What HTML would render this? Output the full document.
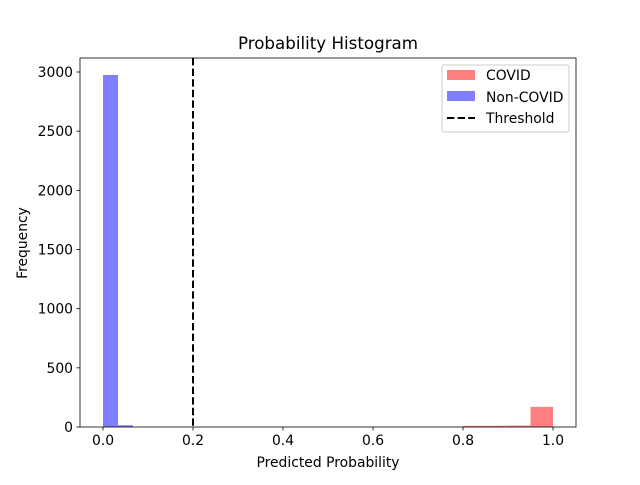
<!DOCTYPE html>
<html><head><meta charset="utf-8"><style>body{margin:0;background:#fff}text{font-family:"DejaVu Sans","Liberation Sans",sans-serif}</style></head>
<body>
<svg id="c" width="640" height="480" xmlns="http://www.w3.org/2000/svg"></svg>
<script>
const covidBinStarts=[0.8,0.85,0.9,0.95];
const covidCounts=[10,10,12,170];
const covidBinWidth=0.05;
const nonBinStarts=[0,0.0333];
const nonCounts=[2975,15];
const nonBinWidth=0.0333;
const threshold=0.2;
const xTicks=[0,0.2,0.4,0.6,0.8,1.0];
const xTickLabels=["0.0","0.2","0.4","0.6","0.8","1.0"];
const yTicks=[0,500,1000,1500,2000,2500,3000];
const L=80,R=576,T=58,B=427;
const X=v=>103+v*450, Y=v=>B-v*(355/3000);
const s=document.getElementById('c');const NS='http://www.w3.org/2000/svg';
function el(t,a,txt){const e=document.createElementNS(NS,t);for(const k in a)e.setAttribute(k,a[k]);if(txt!==undefined)e.textContent=txt;s.appendChild(e);return e;}
covidBinStarts.forEach((b,i)=>{const e=el('rect',{x:X(b),y:Y(covidCounts[i]),width:X(b+covidBinWidth)-X(b),height:B-Y(covidCounts[i]),fill:'#ff0000','fill-opacity':0.5});

});
nonBinStarts.forEach((b,i)=>{const e=el('rect',{x:X(b),y:Y(nonCounts[i]),width:X(b+nonBinWidth)-X(b),height:B-Y(nonCounts[i]),fill:'#0000ff','fill-opacity':0.5});

});
let th=el('line',{x1:X(threshold),x2:X(threshold),y1:T,y2:B,stroke:'#000','stroke-width':2,'stroke-dasharray':'7.4,3.2'});


let ax=el('rect',{x:L,y:T,width:R-L,height:B-T,fill:'none',stroke:'#000','stroke-width':0.8});


xTicks.forEach((v,i)=>{el('line',{x1:X(v),x2:X(v),y1:B,y2:B+3.5,stroke:'#000','stroke-width':0.8});
const t=el('text',{x:X(v),y:B+18,'font-size':13.9,'text-anchor':'middle'},xTickLabels[i]);

});
yTicks.forEach(v=>{el('line',{x1:L-3.5,x2:L,y1:Y(v),y2:Y(v),stroke:'#000','stroke-width':0.8});
const t=el('text',{x:L-7,y:Y(v)+5,'font-size':13.9,'text-anchor':'end'},String(v));

});
let t1=el('text',{x:328,y:49,'font-size':16.7,'text-anchor':'middle'},'Probability Histogram');

let t2=el('text',{x:328,y:467,'font-size':13.9,'text-anchor':'middle'},'Predicted Probability');

let t3=el('text',{x:27,y:243,'font-size':13.9,'text-anchor':'middle',transform:'rotate(-90 27 243)'},'Frequency');

let lg=el('rect',{x:442,y:65,width:127,height:67,fill:'#fff','fill-opacity':0.8,stroke:'#ccc',rx:2});

el('rect',{x:447,y:70,width:28,height:10,fill:'#ff0000','fill-opacity':0.5});
el('rect',{x:447,y:91,width:28,height:10,fill:'#0000ff','fill-opacity':0.5});
el('line',{x1:447,x2:475,y1:118,y2:118,stroke:'#000','stroke-width':2,'stroke-dasharray':'7.4,3.2'});
[['COVID',80],['Non-COVID',102],['Threshold',123]].forEach(([n,y])=>{const t=el('text',{x:486,y:y,'font-size':13.9},n);

});
</script>
</body></html>
